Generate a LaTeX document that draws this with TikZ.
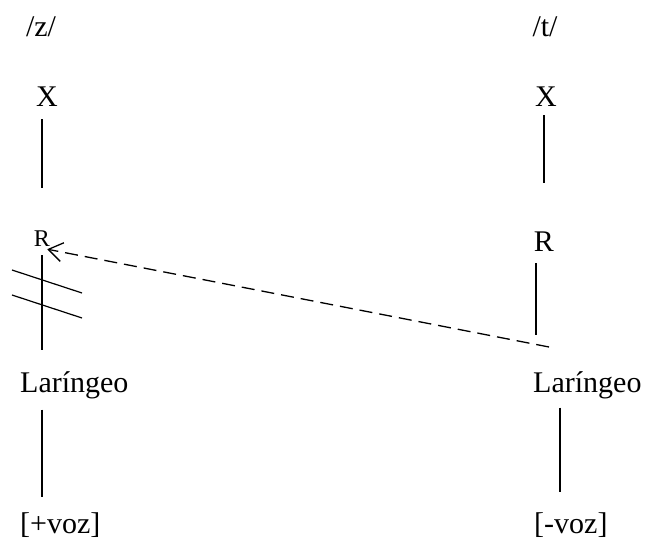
\documentclass[tikz,border=0pt]{standalone}
\usepackage{fontspec}
\setmainfont{Liberation Serif}
\usetikzlibrary{positioning,arrows.meta}

\begin{document}
\begin{tikzpicture}[
  x=1pt, y=-1pt,
  lbl/.style={inner sep=0pt, anchor=base, font=\fontsize{30}{36}\selectfont},
  smalllbl/.style={lbl, font=\fontsize{24}{28}\selectfont},
  link/.style={line width=1.2pt},
  dashlink/.style={-{Straight Barb[length=14pt,width=19pt]}, line width=1.3pt, dash pattern=on 13pt off 7pt}
]
\useasboundingbox (0,0) rectangle (649,540);

% Left column (/z/)
\node[lbl] (zL) at (41,37) {/z/};
\node[lbl] (xL) at (47,107) {X};
\node[smalllbl] (rL) at (42,247) {R};
\node[lbl, anchor=base west] (lL) at (20,393) {Laríngeo};
\node[lbl, anchor=base west] (vL) at (20,533) {[+voz]};

% Right column (/t/)
\node[lbl] (tR) at (545,37) {/t/};
\node[lbl] (xR) at (546,107) {X};
\node[lbl] (rR) at (544,252) {R};
\node[lbl, anchor=base west] (lR) at (533,393) {Laríngeo};
\node[lbl, anchor=base west] (vR) at (534,533) {[-voz]};

% Association lines
\draw[link, shorten <=12pt, shorten >=43pt] (xL.south -| rL) -- (rL.north);
\draw[link, shorten <=8pt, shorten >=22pt] (rL.south) -- (rL.south |- lL.north);
\draw[link, shorten <=10pt, shorten >=15pt] (lL.south -| rL) -- (rL |- vL.north);

\draw[link, shorten <=8pt, shorten >=49pt] ([xshift=-2pt]xR.south) -- ([xshift=-2pt]xR.south |- rR.north);
\draw[link, shorten <=11pt, shorten >=37pt] ([xshift=-8pt]rR.south) -- ([xshift=-8pt]rR.south |- lR.north);
\draw[link, shorten <=8pt, shorten >=20pt] ([xshift=27pt]lR.south west) -- ([xshift=27pt]lR.south west |- vR.north);

% Delinking bars
\draw[link] (12,270) -- (82,293);
\draw[link] (12,295) -- (82,318);

% Spreading from the right R
\coordinate (src) at (549,347);
\draw[dashlink] (src) -- ([xshift=-3pt,yshift=-2pt]rL.south east);

\end{tikzpicture}
\end{document}
